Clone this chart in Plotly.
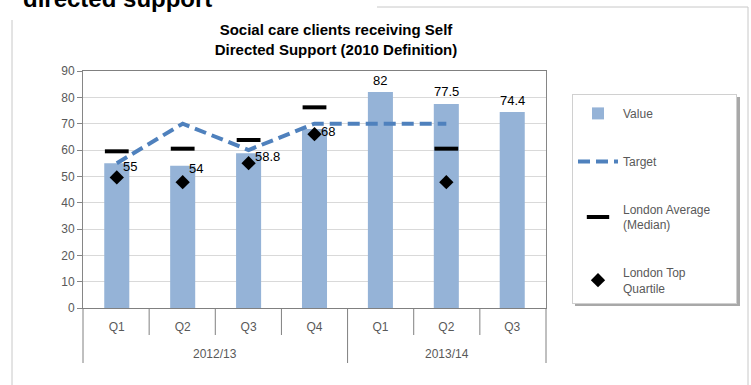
import plotly.graph_objects as go

# ---------------- data ----------------
years = ["2012/13", "2012/13", "2012/13", "2012/13", "2013/14", "2013/14", "2013/14"]
quarters = ["Q1", "Q2", "Q3", "Q4", "Q1", "Q2", "Q3"]
value = [55, 54, 58.8, 68, 82, 77.5, 74.4]
target = [55, 70, 60, 70, 70, 70, None]
london_median = [59.5, 60.5, 63.8, 76.2, None, 60.5, None]
london_top_quartile = [49.6, 47.8, 55, 66, None, 47.8, None]
value_labels = ["55", "54", "58.8", "68", "82", "77.5", "74.4"]
label_side = ["right", "right", "right", "right", "top", "top", "top"]

year_groups = ["2012/13", "2013/14"]

keys = [f"{y} {q}" for y, q in zip(years, quarters)]

# ---------------- layout geometry (pixels) ----------------
W, H = 751, 385
L, R, T, B = 83, 205, 71, 77
PW, PH = W - L - R, H - T - B


def px_x(px):
    return (px - L) / PW


def px_y(py):
    return (H - B - py) / PH


FONT = "Liberation Sans, Arial, sans-serif"
GREY_TXT = "#595959"
NB = "\u00a0"

fig = go.Figure()

fig.add_trace(go.Bar(
    x=keys, y=value, name="Value",
    marker=dict(color="#95B3D7", line=dict(width=0)),
    legendgroup="a",
))
fig.add_trace(go.Scatter(
    x=keys, y=target, name="Target", mode="lines",
    line=dict(color="#4F81BD", width=4, dash="12px,6px"),
    connectgaps=False, legendgroup="b",
))
fig.add_trace(go.Scatter(
    x=keys, y=london_median, name="London Average" + NB * 6 + "<br>(Median)", mode="markers",
    marker=dict(symbol="line-ew", size=17, color="black",
                line=dict(color="black", width=4)),
    legendgroup="c",
))
fig.add_trace(go.Scatter(
    x=keys, y=london_top_quartile, name="London Top<br>Quartile", mode="markers",
    marker=dict(symbol="diamond", size=11, color="black"),
    legendgroup="d",
))

n = len(keys)
shapes = []
# outer chart border
shapes.append(dict(type="rect", xref="paper", yref="paper",
                   x0=px_x(12), x1=px_x(748), y0=px_y(392), y1=px_y(7),
                   line=dict(color="#C8C8C8", width=1), layer="above"))
# heading text box covering the top-left of the border
shapes.append(dict(type="rect", xref="paper", yref="paper",
                   x0=px_x(-5), x1=px_x(377), y0=px_y(20), y1=px_y(-5),
                   line=dict(width=0), fillcolor="white", layer="above"))
# legend shadow
shapes.append(dict(type="rect", xref="paper", yref="paper",
                   x0=px_x(575), x1=px_x(740), y0=px_y(306), y1=px_y(97),
                   line=dict(width=0), fillcolor="#A8A8A8", layer="above"))
# inner category separators
for i in range(1, n):
    if years[i] != years[i - 1]:
        continue
    shapes.append(dict(type="line", xref="paper", yref="paper",
                       x0=i / n, x1=i / n, y0=0, y1=px_y(335),
                       line=dict(color="#808080", width=1)))
# year group separators (incl. both ends)
bounds = [0] + [i for i in range(1, n) if years[i] != years[i - 1]] + [n]
for b in bounds:
    shapes.append(dict(type="line", xref="paper", yref="paper",
                       x0=b / n, x1=b / n, y0=0, y1=px_y(363),
                       line=dict(color="#808080", width=1)))

annotations = []
# data labels
for k, v, t, side in zip(keys, value, value_labels, label_side):
    if side == "right":
        annotations.append(dict(text=t, x=k, y=v, xref="x", yref="y",
                                xanchor="left", yanchor="middle", xshift=4, yshift=-3,
                                showarrow=False,
                                font=dict(family=FONT, size=13, color="black")))
    else:
        annotations.append(dict(text=t, x=k, y=v, xref="x", yref="y",
                                xanchor="center", yanchor="middle", yshift=12,
                                showarrow=False,
                                font=dict(family=FONT, size=13, color="black")))
for g in year_groups:
    idx = [i for i, y in enumerate(years) if y == g]
    cx = (idx[0] + idx[-1] + 1) / 2 / n
    annotations.append(dict(text=g, xref="paper", yref="paper", x=cx, y=px_y(354),
                            xanchor="center", yanchor="middle", showarrow=False,
                            font=dict(family=FONT, size=12, color=GREY_TXT)))
annotations.append(dict(text="<b>directed support</b>", xref="paper", yref="paper",
                        x=px_x(21), y=px_y(-2), xanchor="left", yanchor="middle",
                        showarrow=False,
                        font=dict(family=FONT, size=24, color="black")))

fig.update_layout(
    width=W, height=H,
    margin=dict(l=L, r=R, t=T, b=B, autoexpand=False),
    paper_bgcolor="white", plot_bgcolor="white",
    title=dict(text="<b>Social care clients receiving Self<br>Directed Support (2010 Definition)</b>",
               x=336 / W, xanchor="center", xref="container",
               y=1 - 35 / H, yanchor="middle", yref="container",
               font=dict(family=FONT, size=15, color="black")),
    bargap=0.62,
    showlegend=True,
    legend=dict(x=px_x(572), y=px_y(94), xanchor="left", yanchor="top",
                bgcolor="white", bordercolor="#D0D0D0", borderwidth=1,
                font=dict(family=FONT, size=12, color=GREY_TXT),
                title=dict(text=NB, font=dict(size=3)),
                tracegroupgap=29, itemwidth=40, traceorder="grouped"),
    shapes=shapes,
    annotations=annotations,
    font=dict(family=FONT, size=12, color=GREY_TXT),
)
fig.update_xaxes(type="category", categoryorder="array", categoryarray=keys,
                 tickvals=keys, ticktext=quarters, ticks="", ticklabelstandoff=8,
                 showline=True, linecolor="#808080", mirror=True,
                 showgrid=False, tickfont=dict(family=FONT, size=12, color=GREY_TXT))
fig.update_yaxes(range=[0, 90], dtick=10, showline=True, linecolor="#868686",
                 mirror=True, ticks="outside", ticklen=5, tickcolor="#868686",
                 gridcolor="#D9D9D9", zeroline=False,
                 tickfont=dict(family=FONT, size=12, color=GREY_TXT))

fig.write_html("out.html")
